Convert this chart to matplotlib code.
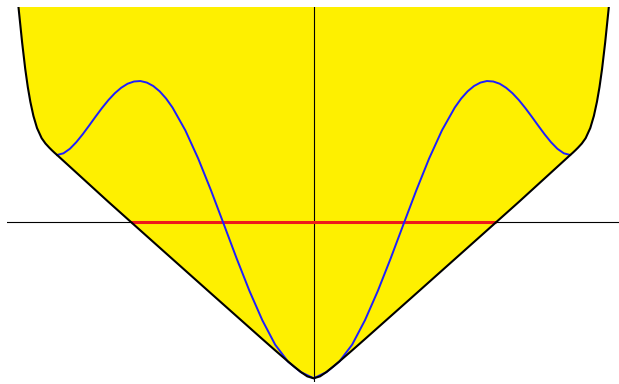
import numpy as np
import matplotlib
matplotlib.use("Agg")
import matplotlib.pyplot as plt

# Right half of the symmetric picture (x >= 0); the left half is its mirror image.
# Lower boundary of the admissible region (rounded V)
bound_low_x = [0.0, 0.025, 0.05, 0.075, 0.10, 0.15, 0.20, 0.40, 0.60, 0.80, 1.0]
bound_low_y = [-2.318, -2.289, -2.224, -2.148, -2.068, -1.903, -1.735, -1.057, -0.377, 0.304, 1.000]
# Steep outer branch of the boundary beyond the corner at x = 1
bound_up_x = [1.010, 1.020, 1.030, 1.045, 1.060, 1.078, 1.092, 1.104, 1.114, 1.124, 1.136, 1.149, 1.160]
bound_up_y = [1.034, 1.070, 1.108, 1.170, 1.250, 1.400, 1.580, 1.790, 2.010, 2.280, 2.670, 3.150, 3.570]

# Extremal polynomial (blue)
poly_x = [0.0, 0.05, 0.10, 0.15, 0.20, 0.25, 0.30, 0.35, 0.40, 0.45, 0.50, 0.55, 0.575,
          0.60, 0.625, 0.65, 0.675, 0.70, 0.725, 0.75, 0.775, 0.80, 0.825, 0.85, 0.875,
          0.90, 0.925, 0.95, 0.975, 1.0]
poly_y = [-2.318, -2.226, -2.070, -1.818, -1.455, -1.021, -0.538, -0.030, 0.474, 0.948, 1.366,
          1.705, 1.839, 1.946, 2.025, 2.076, 2.099, 2.092, 2.059, 1.999, 1.917, 1.815, 1.697,
          1.569, 1.437, 1.308, 1.190, 1.092, 1.025, 1.000]

# Interval on the x-axis where the boundary lies below zero
red_interval = [-0.711, 0.711]


def mirror(xs, ys):
    xs = np.asarray(xs, dtype=float)
    ys = np.asarray(ys, dtype=float)
    return np.concatenate([-xs[::-1], xs[1:]]), np.concatenate([ys[::-1], ys[1:]])


bx, by = mirror(bound_low_x + bound_up_x, bound_low_y + bound_up_y)
px, py = mirror(poly_x, poly_y)

W, H = 619, 384
fig = plt.figure(figsize=(W / 100, H / 100), dpi=100)
ax = fig.add_axes([7 / W, 2 / H, 611.5 / W, 375 / H])
ax.set_xlim(-1.195, 1.188)
ax.set_ylim(-2.373, 3.199)
ax.axis("off")

ax.fill_between(bx, by, by.max(), color="#FEF000", lw=0, zorder=1)
ax.axhline(0, color="black", lw=0.8, zorder=2)
ax.axvline(0, color="black", lw=0.8, zorder=2)
ax.plot(red_interval, [0, 0], color="#EE1A1A", lw=2.2, solid_capstyle="butt", zorder=3)
ax.plot(px, py, color="#1E1EFF", lw=1.4, zorder=4)
ax.plot(bx, by, color="black", lw=1.5, zorder=5)

fig.savefig("out.png", dpi=100)
